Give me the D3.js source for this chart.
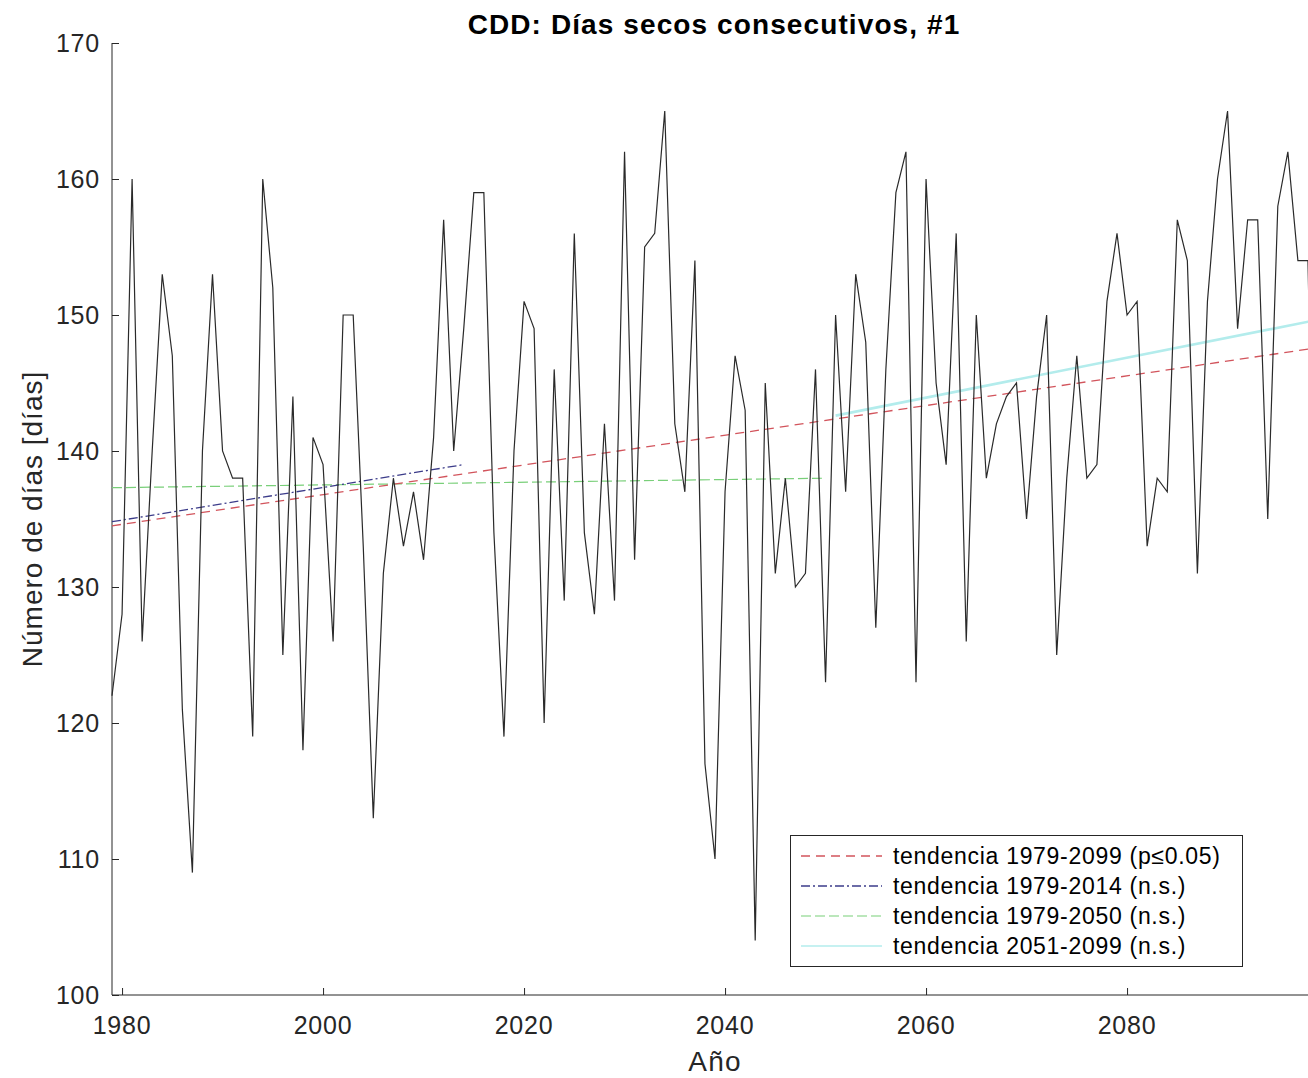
<!DOCTYPE html>
<html>
<head>
<meta charset="utf-8">
<script src="https://cdn.jsdelivr.net/npm/d3@7"></script>
<style>
  body { margin: 0; background: #fff; }
  svg { display: block; font-family: "Liberation Sans", Arial, sans-serif; }
</style>
</head>
<body>
<script>
const width = 1308;
const height = 1078;

// serie anual CDD (días secos consecutivos)
const years = d3.range(1979, 2100);
const cdd = [
  122, 128, 160, 126, 140, 153, 147, 121, 109, 140,   // 1979-1988
  153, 140, 138, 138, 119, 160, 152, 125, 144, 118,   // 1989-1998
  141, 139, 126, 150, 150, 133, 113, 131, 138, 133,   // 1999-2008
  137, 132, 141, 157, 140, 149, 159, 159, 134, 119,   // 2009-2018
  140, 151, 149, 120, 146, 129, 156, 134, 128, 142,   // 2019-2028
  129, 162, 132, 155, 156, 165, 142, 137, 154, 117,   // 2029-2038
  110, 137, 147, 143, 104, 145, 131, 138, 130, 131,   // 2039-2048
  146, 123, 150, 137, 153, 148, 127, 146, 159, 162,   // 2049-2058
  123, 160, 145, 139, 156, 126, 150, 138, 142, 144,   // 2059-2068
  145, 135, 144, 150, 125, 138, 147, 138, 139, 151,   // 2069-2078
  156, 150, 151, 133, 138, 137, 157, 154, 131, 151,   // 2079-2088
  160, 165, 149, 157, 157, 135, 158, 162, 154, 154,   // 2089-2098
  120                                                 // 2099
];

// tendencias lineales
const trendLabels = [
  "tendencia 1979-2099 (p≤0.05)",
  "tendencia 1979-2014 (n.s.)",
  "tendencia 1979-2050 (n.s.)",
  "tendencia 2051-2099 (n.s.)"
];
const trendStart = [1979, 1979, 1979, 2051];
const trendEnd = [2099, 2014, 2050, 2099];
const trendFrom = [134.5, 134.8, 137.3, 142.6];
const trendTo = [147.6, 139.0, 138.0, 149.65];
const trendColors = ["#d2545c", "#3c3c8a", "#79cf79", "#b3ecec"];
const trendDash = ["9,6", "9,3,2,3", "10,4", null];
const trendWidth = [1.3, 1.3, 1.2, 2.6];
const drawOrder = [3, 2, 1, 0]; // la roja queda encima

const xTicks = [1980, 2000, 2020, 2040, 2060, 2080];
const yTicks = [100, 110, 120, 130, 140, 150, 160, 170];

const svg = d3.select("body").append("svg")
    .attr("width", width)
    .attr("height", height);

const x = d3.scaleLinear().domain([1979, 2099]).range([112, 1318]);
const y = d3.scaleLinear().domain([100, 170]).range([995, 43]);

const axisColor = "#262626";

// eje y
const yAxis = svg.append("g")
    .attr("transform", "translate(112,0)")
    .call(d3.axisRight(y).tickValues(yTicks).tickSize(7).tickFormat(""));
yAxis.select(".domain").attr("stroke", axisColor).attr("d", "M0,43V995");
yAxis.selectAll(".tick line").attr("stroke", axisColor);
svg.append("g").selectAll("text")
    .data(yTicks)
    .enter()
    .append("text")
      .attr("x", 100)
      .attr("y", d => y(d))
      .attr("dy", "0.36em")
      .attr("text-anchor", "end")
      .attr("font-size", 25)
      .attr("letter-spacing", 0.8)
      .attr("fill", axisColor)
      .text(d => d);

// eje x
const xAxis = svg.append("g")
    .attr("transform", "translate(0,995)")
    .call(d3.axisTop(x).tickValues(xTicks).tickSize(7).tickFormat(""));
xAxis.select(".domain").attr("stroke", axisColor).attr("d", "M112,0H1318");
xAxis.selectAll(".tick line").attr("stroke", axisColor);
svg.append("g").selectAll("text")
    .data(xTicks)
    .enter()
    .append("text")
      .attr("x", d => x(d))
      .attr("y", 1034)
      .attr("text-anchor", "middle")
      .attr("font-size", 25)
      .attr("letter-spacing", 0.8)
      .attr("fill", axisColor)
      .text(d => d);

// serie
const line = d3.line()
    .x((d, i) => x(years[i]))
    .y(d => y(d));

// tendencias (debajo de la serie)
const trendLine = d3.line().x(d => x(d[0])).y(d => y(d[1]));
drawOrder.forEach(function(i) {
  svg.append("path")
    .datum([[trendStart[i], trendFrom[i]], [trendEnd[i], trendTo[i]]])
    .attr("d", trendLine)
    .attr("fill", "none")
    .attr("stroke", trendColors[i])
    .attr("stroke-width", trendWidth[i])
    .attr("stroke-dasharray", trendDash[i]);
});

svg.append("path")
    .datum(cdd)
    .attr("d", line)
    .attr("fill", "none")
    .attr("stroke", "#2a2a2a")
    .attr("stroke-width", 1.2);

// títulos
svg.append("text")
    .attr("x", 714)
    .attr("y", 34)
    .attr("text-anchor", "middle")
    .attr("font-size", 28)
    .attr("font-weight", "bold")
    .attr("letter-spacing", 1.1)
    .attr("fill", "#000")
    .text("CDD: Días secos consecutivos, #1");

svg.append("text")
    .attr("x", 715)
    .attr("y", 1071)
    .attr("text-anchor", "middle")
    .attr("font-size", 28)
    .attr("letter-spacing", 1.2)
    .attr("fill", axisColor)
    .text("Año");

svg.append("text")
    .attr("transform", "translate(42,519) rotate(-90)")
    .attr("text-anchor", "middle")
    .attr("font-size", 28)
    .attr("letter-spacing", 1)
    .attr("fill", axisColor)
    .text("Número de días [días]");

// leyenda
const legend = svg.append("g").attr("class", "legend");
legend.append("rect")
    .attr("x", 790.5)
    .attr("y", 835.5)
    .attr("width", 452)
    .attr("height", 131)
    .attr("fill", "#fff")
    .attr("stroke", "#262626")
    .attr("stroke-width", 1);

legend.selectAll("line")
    .data(trendLabels)
    .enter()
    .append("line")
      .attr("x1", 801)
      .attr("x2", 882)
      .attr("y1", (d, i) => 856 + i * 30)
      .attr("y2", (d, i) => 856 + i * 30)
      .attr("stroke", (d, i) => trendColors[i])
      .attr("stroke-width", (d, i) => Math.min(trendWidth[i], 1.6))
      .attr("stroke-dasharray", (d, i) => trendDash[i]);

legend.selectAll("text")
    .data(trendLabels)
    .enter()
    .append("text")
      .attr("x", 893)
      .attr("y", (d, i) => 856 + i * 30)
      .attr("dy", "0.36em")
      .attr("font-size", 23)
      .attr("letter-spacing", 0.7)
      .attr("fill", "#000")
      .text(d => d);
</script>
</body>
</html>
